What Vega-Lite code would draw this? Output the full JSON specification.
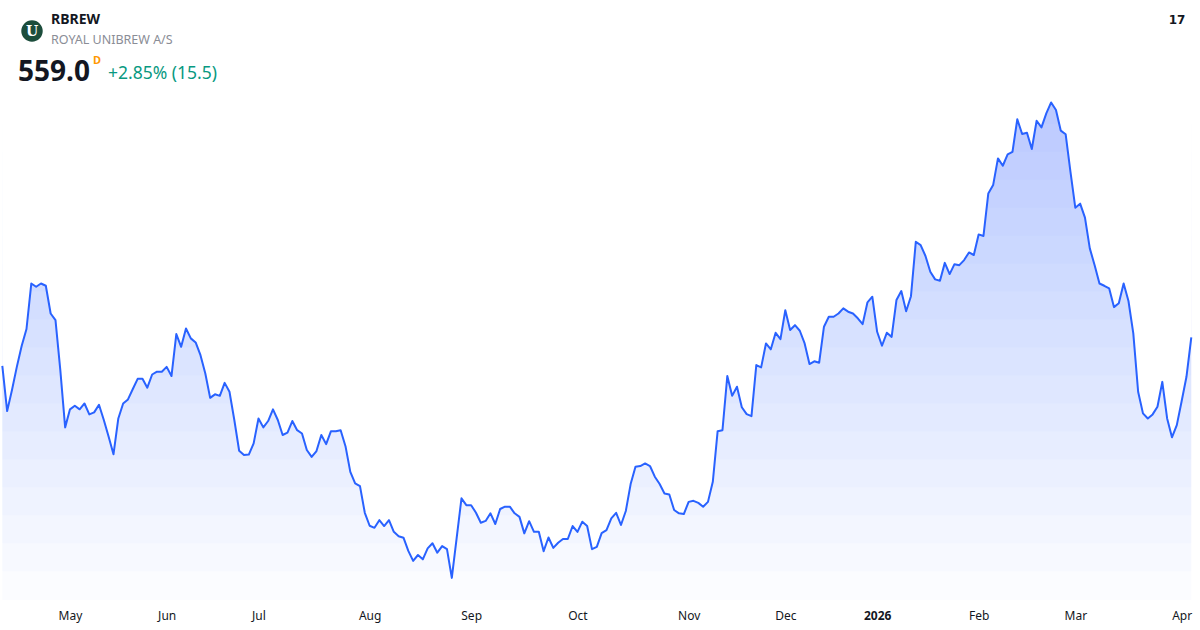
{
  "$schema": "https://vega.github.io/schema/vega-lite/v6.json",
  "width": 1200,
  "height": 600,
  "autosize": {"type": "none"},
  "padding": {"left": 0, "top": 0, "right": 0, "bottom": 30},
  "background": "#ffffff",
  "config": {"view": {"stroke": null}, "font": "Noto Sans", "area": {"color": "#2962ff", "opacity": 0.021, "clip": true}},
  "datasets": {
    "prices": [
      {"i":0,"close":547.8},{"i":1,"close":530.0},{"i":2,"close":538.3},{"i":3,"close":547.4},{"i":4,"close":555.6},
      {"i":5,"close":562.3},{"i":6,"close":580.2},{"i":7,"close":578.9},{"i":8,"close":580.2},{"i":9,"close":579.3},
      {"i":10,"close":568.4},{"i":11,"close":565.8},{"i":12,"close":546.1},{"i":13,"close":523.6},{"i":14,"close":530.7},
      {"i":15,"close":532.1},{"i":16,"close":530.7},{"i":17,"close":533.0},{"i":18,"close":528.7},{"i":19,"close":529.5},
      {"i":20,"close":532.5},{"i":21,"close":526.5},{"i":22,"close":519.9},{"i":23,"close":513.0},{"i":24,"close":527.1},
      {"i":25,"close":533.0},{"i":26,"close":534.6},{"i":27,"close":538.7},{"i":28,"close":542.7},{"i":29,"close":542.7},
      {"i":30,"close":539.2},{"i":31,"close":544.4},{"i":32,"close":545.5},{"i":33,"close":545.5},{"i":34,"close":547.4},
      {"i":35,"close":543.8},{"i":36,"close":560.3},{"i":37,"close":555.3},{"i":38,"close":562.5},{"i":39,"close":558.6},
      {"i":40,"close":557.0},{"i":41,"close":552.0},{"i":42,"close":544.8},{"i":43,"close":535.2},{"i":44,"close":536.6},
      {"i":45,"close":536.0},{"i":46,"close":541.1},{"i":47,"close":537.6},{"i":48,"close":526.5},{"i":49,"close":514.4},
      {"i":50,"close":512.7},{"i":51,"close":512.9},{"i":52,"close":517.3},{"i":53,"close":527.1},{"i":54,"close":523.6},
      {"i":55,"close":526.1},{"i":56,"close":530.7},{"i":57,"close":526.5},{"i":58,"close":520.6},{"i":59,"close":521.5},
      {"i":60,"close":526.1},{"i":61,"close":522.5},{"i":62,"close":521.2},{"i":63,"close":514.7},{"i":64,"close":512.0},
      {"i":65,"close":514.3},{"i":66,"close":520.6},{"i":67,"close":517.0},{"i":68,"close":522.1},{"i":69,"close":522.1},
      {"i":70,"close":522.5},{"i":71,"close":516.2},{"i":72,"close":506.1},{"i":73,"close":501.6},{"i":74,"close":500.5},
      {"i":75,"close":490.0},{"i":76,"close":484.9},{"i":77,"close":484.1},{"i":78,"close":487.1},{"i":79,"close":484.8},
      {"i":80,"close":487.1},{"i":81,"close":482.5},{"i":82,"close":480.8},{"i":83,"close":480.2},{"i":84,"close":475.0},
      {"i":85,"close":471.1},{"i":86,"close":473.4},{"i":87,"close":471.7},{"i":88,"close":476.0},{"i":89,"close":478.0},
      {"i":90,"close":474.3},{"i":91,"close":476.9},{"i":92,"close":475.7},{"i":93,"close":464.4},{"i":94,"close":480.0},
      {"i":95,"close":495.7},{"i":96,"close":493.0},{"i":97,"close":493.0},{"i":98,"close":490.0},{"i":99,"close":486.1},
      {"i":100,"close":486.8},{"i":101,"close":489.8},{"i":102,"close":485.6},{"i":103,"close":491.5},{"i":104,"close":492.4},
      {"i":105,"close":492.4},{"i":106,"close":489.8},{"i":107,"close":488.4},{"i":108,"close":481.9},{"i":109,"close":486.7},
      {"i":110,"close":482.5},{"i":111,"close":482.5},{"i":112,"close":474.9},{"i":113,"close":480.3},{"i":114,"close":476.2},
      {"i":115,"close":478.2},{"i":116,"close":479.7},{"i":117,"close":479.7},{"i":118,"close":484.8},{"i":119,"close":482.5},
      {"i":120,"close":486.5},{"i":121,"close":484.8},{"i":122,"close":475.7},{"i":123,"close":476.6},{"i":124,"close":482.0},
      {"i":125,"close":483.2},{"i":126,"close":487.8},{"i":127,"close":490.0},{"i":128,"close":485.2},{"i":129,"close":490.7},
      {"i":130,"close":501.3},{"i":131,"close":508.1},{"i":132,"close":508.4},{"i":133,"close":509.4},{"i":134,"close":508.4},
      {"i":135,"close":504.2},{"i":136,"close":501.3},{"i":137,"close":497.6},{"i":138,"close":497.2},{"i":139,"close":491.1},
      {"i":140,"close":489.8},{"i":141,"close":489.5},{"i":142,"close":494.3},{"i":143,"close":494.7},{"i":144,"close":493.9},
      {"i":145,"close":492.4},{"i":146,"close":494.3},{"i":147,"close":502.2},{"i":148,"close":522.1},{"i":149,"close":522.5},
      {"i":150,"close":543.8},{"i":151,"close":536.0},{"i":152,"close":539.6},{"i":153,"close":531.5},{"i":154,"close":528.8},
      {"i":155,"close":528.0},{"i":156,"close":548.1},{"i":157,"close":547.2},{"i":158,"close":556.6},{"i":159,"close":554.3},
      {"i":160,"close":560.8},{"i":161,"close":558.3},{"i":162,"close":569.7},{"i":163,"close":561.9},{"i":164,"close":563.8},
      {"i":165,"close":561.6},{"i":166,"close":556.6},{"i":167,"close":548.5},{"i":168,"close":549.6},{"i":169,"close":549.0},
      {"i":170,"close":563.2},{"i":171,"close":567.1},{"i":172,"close":567.1},{"i":173,"close":568.4},{"i":174,"close":570.4},
      {"i":175,"close":569.1},{"i":176,"close":568.4},{"i":177,"close":566.5},{"i":178,"close":564.2},{"i":179,"close":572.8},
      {"i":180,"close":575.0},{"i":181,"close":561.2},{"i":182,"close":555.7},{"i":183,"close":560.8},{"i":184,"close":559.2},
      {"i":185,"close":573.7},{"i":186,"close":577.2},{"i":187,"close":569.3},{"i":188,"close":575.2},{"i":189,"close":596.6},
      {"i":190,"close":595.3},{"i":191,"close":591.0},{"i":192,"close":584.8},{"i":193,"close":581.8},{"i":194,"close":581.3},
      {"i":195,"close":588.3},{"i":196,"close":583.9},{"i":197,"close":587.8},{"i":198,"close":587.4},{"i":199,"close":589.4},
      {"i":200,"close":592.4},{"i":201,"close":591.4},{"i":202,"close":599.5},{"i":203,"close":598.9},{"i":204,"close":615.6},
      {"i":205,"close":618.9},{"i":206,"close":629.4},{"i":207,"close":626.5},{"i":208,"close":631.0},{"i":209,"close":632.0},
      {"i":210,"close":644.8},{"i":211,"close":639.0},{"i":212,"close":639.5},{"i":213,"close":633.1},{"i":214,"close":644.2},
      {"i":215,"close":641.6},{"i":216,"close":647.1},{"i":217,"close":651.4},{"i":218,"close":648.4},{"i":219,"close":640.3},
      {"i":220,"close":638.9},{"i":221,"close":624.1},{"i":222,"close":610.0},{"i":223,"close":611.6},{"i":224,"close":606.1},
      {"i":225,"close":594.0},{"i":226,"close":587.4},{"i":227,"close":580.2},{"i":228,"close":579.3},{"i":229,"close":578.3},
      {"i":230,"close":570.9},{"i":231,"close":572.4},{"i":232,"close":580.2},{"i":233,"close":573.3},{"i":234,"close":560.6},
      {"i":235,"close":537.6},{"i":236,"close":529.1},{"i":237,"close":527.1},{"i":238,"close":528.7},{"i":239,"close":531.7},
      {"i":240,"close":541.5},{"i":241,"close":527.1},{"i":242,"close":519.7},{"i":243,"close":524.5},{"i":244,"close":533.9},
      {"i":245,"close":543.5},{"i":246,"close":559.0}
    ]
  },
  "layer": [
    {
      "data": {"name": "prices"},
      "mark": {"type": "area"},
      "encoding": {
        "x": {
          "field": "i", "type": "quantitative",
          "scale": {"domain": [-0.48, 247.8], "nice": false, "zero": false},
          "axis": {
            "values": [14, 34, 53, 76, 97, 119, 142, 162, 181, 202, 222, 244],
            "labelExpr": "datum.value == 14 ? 'May' : datum.value == 34 ? 'Jun' : datum.value == 53 ? 'Jul' : datum.value == 76 ? 'Aug' : datum.value == 97 ? 'Sep' : datum.value == 119 ? 'Oct' : datum.value == 142 ? 'Nov' : datum.value == 162 ? 'Dec' : datum.value == 181 ? '2026' : datum.value == 202 ? 'Feb' : datum.value == 222 ? 'Mar' : 'Apr'",
            "title": null,
            "grid": false,
            "domain": false,
            "ticks": false,
            "labelPadding": 10,
            "labelFontSize": 12,
            "labelColor": "#131722",
            "labelFont": "Noto Sans",
            "labelFlush": false,
            "labelOverlap": false,
            "labelFontWeight": {"condition": {"test": "datum.value == 181", "value": "bold"}, "value": "normal"}
          }
        },
        "y": {
          "field": "close", "type": "quantitative",
          "scale": {"domain": [455.7, 691.7], "nice": false, "zero": false},
          "axis": null
        },
        "y2": {"datum": 455.7}
      }
    },
    {"data": {"name": "prices"}, "mark": {"type": "area"}, "encoding": {"x": {"field": "i", "type": "quantitative"}, "y": {"field": "close", "type": "quantitative"}, "y2": {"datum": 467}}},
    {"data": {"name": "prices"}, "mark": {"type": "area"}, "encoding": {"x": {"field": "i", "type": "quantitative"}, "y": {"field": "close", "type": "quantitative"}, "y2": {"datum": 478}}},
    {"data": {"name": "prices"}, "mark": {"type": "area"}, "encoding": {"x": {"field": "i", "type": "quantitative"}, "y": {"field": "close", "type": "quantitative"}, "y2": {"datum": 489}}},
    {"data": {"name": "prices"}, "mark": {"type": "area"}, "encoding": {"x": {"field": "i", "type": "quantitative"}, "y": {"field": "close", "type": "quantitative"}, "y2": {"datum": 500}}},
    {"data": {"name": "prices"}, "mark": {"type": "area"}, "encoding": {"x": {"field": "i", "type": "quantitative"}, "y": {"field": "close", "type": "quantitative"}, "y2": {"datum": 511}}},
    {"data": {"name": "prices"}, "mark": {"type": "area"}, "encoding": {"x": {"field": "i", "type": "quantitative"}, "y": {"field": "close", "type": "quantitative"}, "y2": {"datum": 522}}},
    {"data": {"name": "prices"}, "mark": {"type": "area"}, "encoding": {"x": {"field": "i", "type": "quantitative"}, "y": {"field": "close", "type": "quantitative"}, "y2": {"datum": 533}}},
    {"data": {"name": "prices"}, "mark": {"type": "area"}, "encoding": {"x": {"field": "i", "type": "quantitative"}, "y": {"field": "close", "type": "quantitative"}, "y2": {"datum": 544}}},
    {"data": {"name": "prices"}, "mark": {"type": "area"}, "encoding": {"x": {"field": "i", "type": "quantitative"}, "y": {"field": "close", "type": "quantitative"}, "y2": {"datum": 555}}},
    {"data": {"name": "prices"}, "mark": {"type": "area"}, "encoding": {"x": {"field": "i", "type": "quantitative"}, "y": {"field": "close", "type": "quantitative"}, "y2": {"datum": 566}}},
    {"data": {"name": "prices"}, "mark": {"type": "area"}, "encoding": {"x": {"field": "i", "type": "quantitative"}, "y": {"field": "close", "type": "quantitative"}, "y2": {"datum": 577}}},
    {"data": {"name": "prices"}, "mark": {"type": "area"}, "encoding": {"x": {"field": "i", "type": "quantitative"}, "y": {"field": "close", "type": "quantitative"}, "y2": {"datum": 588}}},
    {"data": {"name": "prices"}, "mark": {"type": "area"}, "encoding": {"x": {"field": "i", "type": "quantitative"}, "y": {"field": "close", "type": "quantitative"}, "y2": {"datum": 599}}},
    {"data": {"name": "prices"}, "mark": {"type": "area"}, "encoding": {"x": {"field": "i", "type": "quantitative"}, "y": {"field": "close", "type": "quantitative"}, "y2": {"datum": 610}}},
    {"data": {"name": "prices"}, "mark": {"type": "area"}, "encoding": {"x": {"field": "i", "type": "quantitative"}, "y": {"field": "close", "type": "quantitative"}, "y2": {"datum": 621}}},
    {"data": {"name": "prices"}, "mark": {"type": "area"}, "encoding": {"x": {"field": "i", "type": "quantitative"}, "y": {"field": "close", "type": "quantitative"}, "y2": {"datum": 632}}},
    {"data": {"name": "prices"}, "mark": {"type": "area"}, "encoding": {"x": {"field": "i", "type": "quantitative"}, "y": {"field": "close", "type": "quantitative"}, "y2": {"datum": 643}}},
    {"data": {"name": "prices"}, "mark": {"type": "area", "color": "#ffffff", "opacity": 1}, "encoding": {"x": {"field": "i", "type": "quantitative"}, "y": {"field": "close", "type": "quantitative"}, "y2": {"datum": 691.7}}},
    {
      "data": {"name": "prices"},
      "mark": {"type": "line", "color": "#2962ff", "strokeWidth": 2, "strokeJoin": "round", "clip": true},
      "encoding": {
        "x": {"field": "i", "type": "quantitative"},
        "y": {"field": "close", "type": "quantitative"}
      }
    },
    {
      "data": {"values": [{"k": "logo"}]},
      "mark": {"type": "point", "shape": "circle", "filled": true, "size": 460, "color": "#1c4d3c", "opacity": 1, "x": 32, "y": 31}
    },
    {
      "data": {"values": [{"t": "U"}]},
      "mark": {"type": "text", "x": 32, "y": 32, "align": "center", "baseline": "middle", "font": "DejaVu Serif", "fontSize": 14, "fontWeight": "bold", "color": "#ffffff"},
      "encoding": {"text": {"field": "t"}}
    },
    {
      "data": {"values": [{"t": "RBREW"}]},
      "mark": {"type": "text", "x": 51, "y": 20, "align": "left", "baseline": "middle", "font": "Noto Sans", "fontSize": 14, "fontWeight": "bold", "color": "#131722"},
      "encoding": {"text": {"field": "t"}}
    },
    {
      "data": {"values": [{"t": "ROYAL UNIBREW A/S"}]},
      "mark": {"type": "text", "x": 51, "y": 40, "align": "left", "baseline": "middle", "font": "Noto Sans", "fontSize": 12.5, "color": "#8a8d96"},
      "encoding": {"text": {"field": "t"}}
    },
    {
      "data": {"values": [{"t": "559.0"}]},
      "mark": {"type": "text", "x": 18, "y": 73, "align": "left", "baseline": "middle", "font": "Noto Sans", "fontSize": 28, "fontWeight": "bold", "color": "#131722"},
      "encoding": {"text": {"field": "t"}}
    },
    {
      "data": {"values": [{"t": "D"}]},
      "mark": {"type": "text", "x": 93, "y": 61, "align": "left", "baseline": "middle", "font": "Noto Sans", "fontSize": 11, "fontWeight": "bold", "color": "#ff9800"},
      "encoding": {"text": {"field": "t"}}
    },
    {
      "data": {"values": [{"t": "+2.85% (15.5)"}]},
      "mark": {"type": "text", "x": 108, "y": 74, "align": "left", "baseline": "middle", "font": "Noto Sans", "fontSize": 17.5, "color": "#089981"},
      "encoding": {"text": {"field": "t"}}
    },
    {
      "data": {"values": [{"t": "17"}]},
      "mark": {"type": "text", "x": 1177, "y": 20, "align": "center", "baseline": "middle", "font": "DejaVu Sans", "fontSize": 12, "fontWeight": "bold", "color": "#131722"},
      "encoding": {"text": {"field": "t"}}
    }
  ]
}
